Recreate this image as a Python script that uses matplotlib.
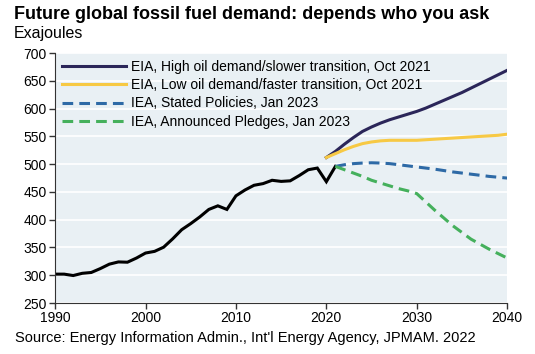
import numpy as np
import matplotlib.pyplot as plt

plt.rcParams['font.family'] = ['Liberation Sans', 'DejaVu Sans']

# historical demand, EJ
hist_years = list(range(1990, 2022))
hist_vals = [302, 302, 299.5, 303.5, 305, 312, 320, 324, 323.5, 331,
             340, 343, 350.5, 365.5, 382, 393, 405, 418.5, 425, 418.5,
             443, 453.5, 462, 465, 471, 469, 470, 479.5, 490, 493,
             468.5, 496]

# EIA scenarios (2020-2040)
eia_years = list(range(2020, 2041))
eia_high = [512, 523, 536, 548, 559, 567, 574, 580, 585, 590,
            595, 601, 608, 615, 622, 629, 637, 645, 653, 661, 669]
eia_low = [512, 519, 526, 532, 537, 540, 542, 543, 543, 543,
           543, 544, 545, 546, 547, 548, 549, 550, 551, 552, 554]

# IEA scenarios (2021-2040)
iea_years = list(range(2021, 2041))
iea_stated = [496, 499, 501, 502, 502.5, 502, 501, 499, 497, 495,
              493, 491, 488.5, 486, 484, 482, 480, 478, 476.5, 475]
iea_pledges = [496, 490, 484, 478, 471, 466, 461, 456, 452, 447,
               432, 417, 403, 389, 377, 365, 356, 347, 339, 331]

fig = plt.figure(figsize=(5.35, 3.54), dpi=100)
ax = fig.add_axes([0.103, 0.144, 0.845, 0.706])
ax.set_facecolor('#e9f0f4')

ax.plot(hist_years, hist_vals, color='black', lw=2.2, solid_joinstyle='miter')
ax.plot(eia_years, eia_high, color='#2b2659', lw=2.2,
        label='EIA, High oil demand/slower transition, Oct 2021')
ax.plot(eia_years, eia_low, color='#f7c944', lw=2.2,
        label='EIA, Low oil demand/faster transition, Oct 2021')
ax.plot(iea_years, iea_stated, color='#2e6aa6', lw=2.2, ls=(0, (3.5, 2)),
        label='IEA, Stated Policies, Jan 2023')
ax.plot(iea_years, iea_pledges, color='#45b05c', lw=2.2, ls=(0, (3.5, 2)),
        label='IEA, Announced Pledges, Jan 2023')

ax.set_xlim(1990, 2040)
ax.set_ylim(250, 700)
ax.set_xticks(range(1990, 2041, 10))
ax.set_yticks(range(250, 701, 50))
ax.yaxis.grid(True, color='white', lw=1.2)
ax.set_axisbelow(True)
ax.tick_params(labelsize=10, length=4, width=1, color='#333333', pad=2)
for s in ['top', 'right']:
    ax.spines[s].set_visible(False)
for s in ['left', 'bottom']:
    ax.spines[s].set_color('#333333')

ax.legend(loc='upper left', frameon=False, fontsize=10.0, handlelength=4.6,
          handletextpad=0.4, labelspacing=0.3, borderaxespad=0.1,
          bbox_to_anchor=(0.0, 1.0))

fig.text(0.026, 0.96, 'Future global fossil fuel demand: depends who you ask',
         fontsize=13.0, fontweight='bold', va='center')
fig.text(0.026, 0.905, 'Exajoules', fontsize=11.5, va='center')
fig.text(0.028, 0.045, "Source: Energy Information Admin., Int'l Energy Agency, JPMAM. 2022",
         fontsize=10.5, va='center')

fig.savefig('out.png', dpi=100)
